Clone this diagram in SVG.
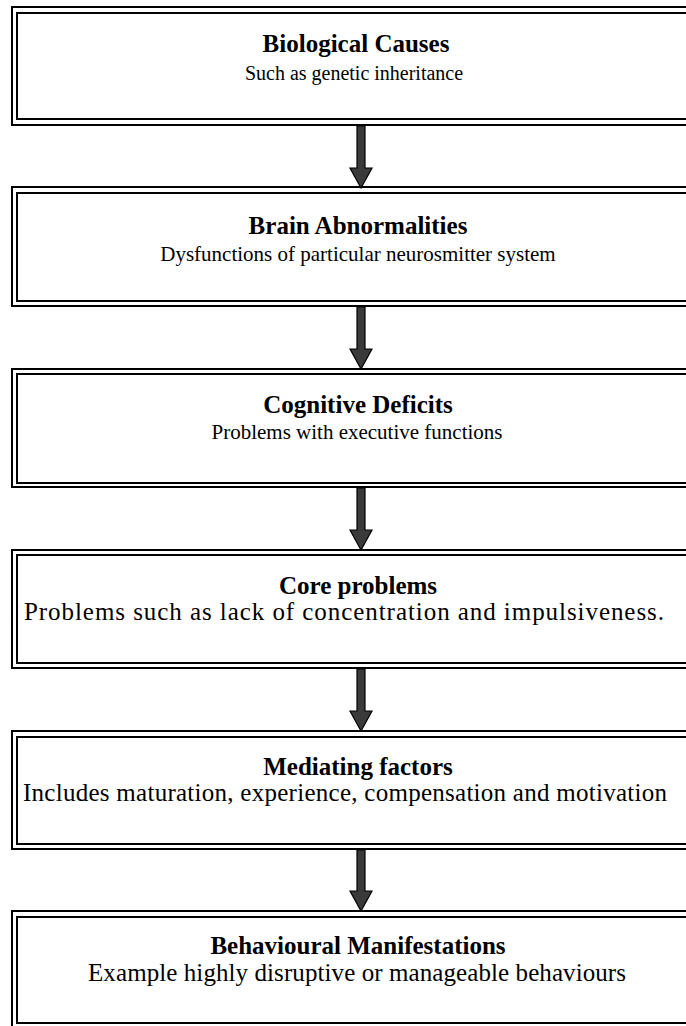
<svg xmlns="http://www.w3.org/2000/svg" width="686" height="1026" viewBox="0 0 686 1026">
<style>
.o{fill:none;stroke:#000;stroke-width:2}
.i{fill:none;stroke:#000;stroke-width:2}
.t{font-family:"Liberation Serif","Times New Roman",serif;font-weight:bold;font-size:25px;text-anchor:middle;fill:#000}
.s{font-family:"Liberation Serif","Times New Roman",serif;font-size:21px;text-anchor:middle;fill:#000}
.l{font-size:25px}
.a{fill:#3a3a3a;stroke:#000;stroke-width:1.2}
</style>
<rect width="686" height="1026" fill="#fff"/>
<g id="n1">
<rect class="o" x="12" y="7" width="700" height="118"/>
<rect class="i" x="17" y="13" width="690" height="106"/>
<text class="t" x="356" y="52">Biological Causes</text>
<text class="s" x="354" y="80" style="font-size:20px">Such as genetic inheritance</text>
</g>
<g id="n2">
<rect class="o" x="12" y="187" width="700" height="119"/>
<rect class="i" x="17" y="193" width="690" height="108"/>
<text class="t" x="358" y="234">Brain Abnormalities</text>
<text class="s" x="358" y="261">Dysfunctions of particular neurosmitter system</text>
</g>
<g id="n3">
<rect class="o" x="12" y="369" width="700" height="118"/>
<rect class="i" x="17" y="374" width="690" height="109"/>
<text class="t" x="358" y="413">Cognitive Deficits</text>
<text class="s" x="357" y="439">Problems with executive functions</text>
</g>
<g id="n4">
<rect class="o" x="12" y="550" width="700" height="118"/>
<rect class="i" x="17" y="555" width="690" height="108"/>
<text class="t" x="358" y="594">Core problems</text>
<text class="s l" x="344" y="620" textLength="640" lengthAdjust="spacing">Problems such as lack of concentration and impulsiveness.</text>
</g>
<g id="n5">
<rect class="o" x="12" y="731" width="700" height="118"/>
<rect class="i" x="17" y="737" width="690" height="107"/>
<text class="t" x="358" y="775">Mediating factors</text>
<text class="s l" x="345" y="801" textLength="644" lengthAdjust="spacing">Includes maturation, experience, compensation and motivation</text>
</g>
<g id="n6">
<rect class="o" x="12" y="911" width="700" height="118"/>
<rect class="i" x="17" y="917" width="690" height="106"/>
<text class="t" x="358" y="954">Behavioural Manifestations</text>
<text class="s l" x="357" y="981" textLength="538" lengthAdjust="spacing">Example highly disruptive or manageable behaviours</text>
</g>
<g id="connectors">
<polygon class="a" points="357,126 365,126 365,168 372,168 361,188 350,168 357,168"/>
<polygon class="a" points="357,307 365,307 365,349 372,349 361,369 350,349 357,349"/>
<polygon class="a" points="357,488 365,488 365,530 372,530 361,550 350,530 357,530"/>
<polygon class="a" points="357,669 365,669 365,711 372,711 361,731 350,711 357,711"/>
<polygon class="a" points="357,850 365,850 365,891 372,891 361,911 350,891 357,891"/>
</g>
</svg>
